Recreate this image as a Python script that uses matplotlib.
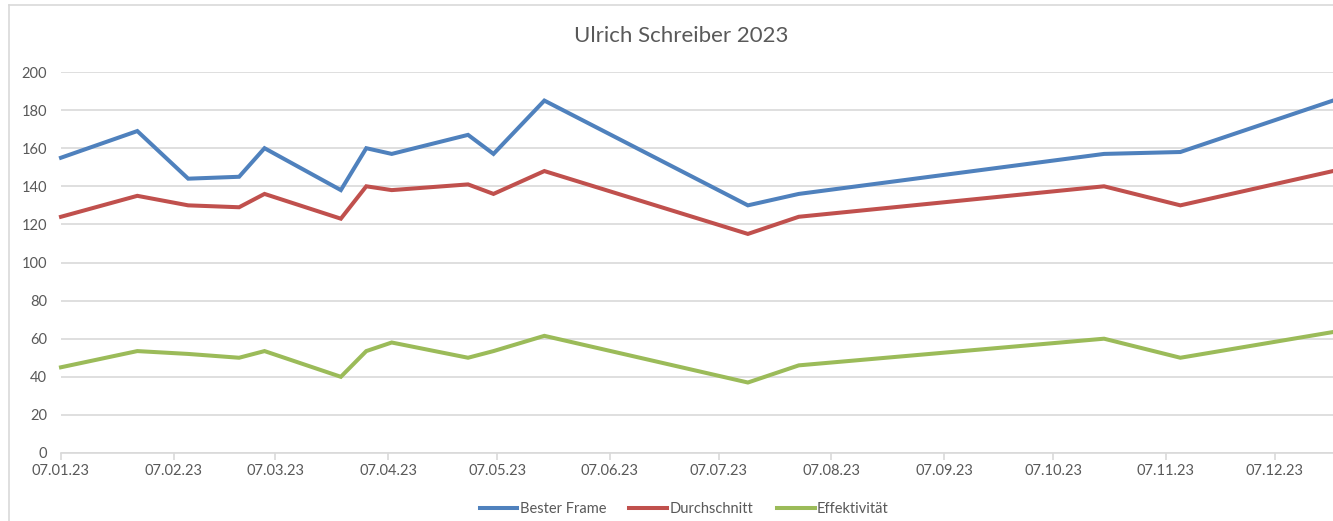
import matplotlib
matplotlib.use("Agg")
import matplotlib.dates as mdates
import matplotlib.pyplot as plt
import numpy as np
from matplotlib.lines import Line2D

# =========================
# DATA
# =========================

dates = np.array([
    "2023-01-07", "2023-01-28", "2023-02-11", "2023-02-25", "2023-03-04",
    "2023-03-25", "2023-04-01", "2023-04-08", "2023-04-29", "2023-05-06",
    "2023-05-20", "2023-07-15", "2023-07-29", "2023-10-21", "2023-11-11",
    "2023-12-23",
], dtype="datetime64[D]")

bester_frame = [155, 169, 144, 145, 160, 138, 160, 157, 167, 157, 185, 130, 136, 157, 158, 185]
durchschnitt = [124, 135, 130, 129, 136, 123, 140, 138, 141, 136, 148, 115, 124, 140, 130, 148]
effektivitaet = [45, 53.5, 52, 50, 53.5, 40, 53.5, 58, 50, 53.5, 61.5, 37, 46, 60, 50, 63.5]

tick_dates = np.array([f"2023-{m:02d}-07" for m in range(1, 13)], dtype="datetime64[D]")

series = [
    ("Bester Frame", bester_frame, "#4f81bd"),
    ("Durchschnitt", durchschnitt, "#c0504d"),
    ("Effektivität", effektivitaet, "#9bbb59"),
]

# =========================
# PLOT
# =========================

plt.rcParams["font.family"] = ["Lato", "DejaVu Sans"]
text_col = "#595959"
grid_col = "#d9d9d9"

fig = plt.figure(figsize=(13.33, 5.21), dpi=100)
ax = fig.add_axes([61 / 1333, 1 - 453 / 521, 1 - 61 / 1333, (453 - 72) / 521])

for name, vals, col in series:
    ax.plot(dates, vals, color=col, lw=2.9, label=name,
            solid_joinstyle="miter", clip_on=False)

ax.set_xlim(dates[0], dates[-1])
ax.set_ylim(0, 200)
ax.set_yticks(np.arange(0, 201, 20))
ax.set_xticks(tick_dates)
ax.xaxis.set_major_formatter(mdates.DateFormatter("%d.%m.%y"))

ax.grid(axis="y", color=grid_col, lw=1.2)
ax.set_axisbelow(True)
for s in ["top", "right", "left"]:
    ax.spines[s].set_visible(False)
ax.spines["bottom"].set_color(grid_col)
ax.spines["bottom"].set_linewidth(1.2)

ax.tick_params(axis="y", length=0, pad=10, labelsize=10.5, colors=text_col)
ax.tick_params(axis="x", length=5, width=1.2, color=grid_col, pad=3,
               labelsize=10.5, labelcolor=text_col)

fig.text(681 / 1333, 1 - 36 / 521, "Ulrich Schreiber 2023", ha="center",
         va="center", fontsize=16, color=text_col)

handles = [Line2D([], [], color=c, lw=2.9) for _, _, c in series]
fig.legend(handles, [n for n, _, _ in series], loc="center",
           bbox_to_anchor=(684 / 1333, 1 - 509 / 521), ncol=3, frameon=False,
           fontsize=10.5, handlelength=2.6, handletextpad=0.15,
           columnspacing=1.6, labelcolor=text_col)

# chart frame (cropped on right and bottom)
fig.add_artist(Line2D([9 / 1333, 1], [1 - 5 / 521, 1 - 5 / 521],
                      transform=fig.transFigure, color=grid_col, lw=1.2))
fig.add_artist(Line2D([9 / 1333, 9 / 1333], [0, 1 - 5 / 521],
                      transform=fig.transFigure, color=grid_col, lw=1.2))

fig.savefig("out.png", dpi=100, facecolor="white")
plt.close(fig)
